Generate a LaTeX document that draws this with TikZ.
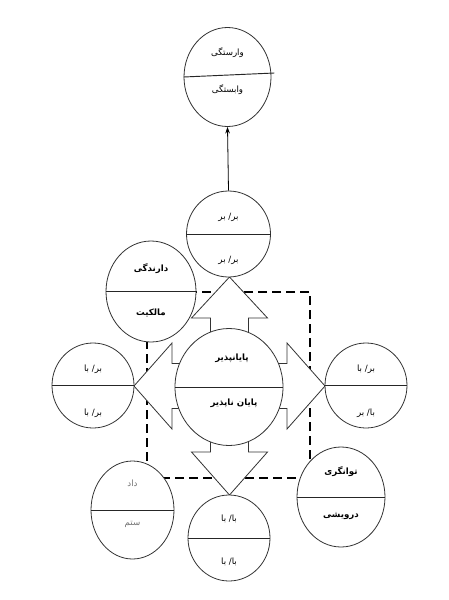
\documentclass[tikz,border=0pt]{standalone}
\usepackage{fontspec}
\newfontfamily\arabicfont[Script=Arabic]{DejaVu Sans}
\newfontfamily\slashfont{DejaVu Sans}
\TeXXeTstate=1
\usetikzlibrary{positioning, calc, shapes.geometric, arrows.meta}

% slash set apart so that the two words keep their order
\newcommand{\pairtext}[2]{\beginR #1{\slashfont/} #2\endR}

\begin{document}
\begin{tikzpicture}[
  x=0.75pt, y=-0.75pt,
  >={Stealth[length=5pt,width=3.5pt]},
  ring/.style={ellipse, draw=black!80, fill=white, line width=0.6pt, inner sep=0pt},
  divider/.style={draw=black!85, line width=0.7pt},
  word/.style={font=\arabicfont\fontsize{6.5}{8}\selectfont, inner sep=1pt},
  strong/.style={word, font=\arabicfont\bfseries\fontsize{6.5}{8}\selectfont},
  faint/.style={word, text=black!55},
  dashframe/.style={draw, line width=1.1pt, dash pattern=on 7pt off 3.5pt},
  crossarrow/.style={draw=black!80, fill=white, line width=0.6pt, line join=miter},
  flow/.style={->, line width=0.6pt}
]
\useasboundingbox (0,0) rectangle (449,600);

% --- Dashed frame round the centre ---
\node[dashframe, minimum width=122.25pt, minimum height=139.5pt, inner sep=0pt]
  (frame) at (228.5,385) {};

% --- Four-way block arrow ---
\coordinate (hub) at (229.5,386);
\begin{scope}[shift={(hub)}]
\draw[crossarrow] (-19,-22.5) -- (-19,-68) -- (-38,-68) -- (0,-109) -- (38,-68)
  -- (19,-68) -- (19,-22.5) -- (57.5,-22.5) -- (57.5,-43) -- (95.5,0)
  -- (57.5,43) -- (57.5,22.5) -- (19,22.5) -- (19,66) -- (38,66) -- (0,109)
  -- (-38,66) -- (-19,66) -- (-19,22.5) -- (-57.5,22.5) -- (-57.5,43)
  -- (-95.5,0) -- (-57.5,-43) -- (-57.5,-22.5) -- cycle;
\end{scope}

% --- Centre ---
\node[ring, minimum width=81pt, minimum height=87.75pt] (payan) at (229,387) {};
\draw[divider] (payan.west) -- (payan.east);
\node[strong] (payantop) at ($(payan)+(3,-29)$) {\beginR پایانپذیر\endR};
\node[strong] (payanbot) at ($(payan)+(5,16)$) {\beginR پایان ناپذیر\endR};

% --- Top chain ---
\node[ring, minimum width=65.25pt, minimum height=74.25pt] (vares) at (227.5,77) {};
\draw[divider] (vares.west) -- ($(vares.east)+(3,-4)$);
\node[word] (varestop) at ($(vares)+(0,-24)$) {\beginR وارستگی\endR};
\node[word] (varesbot) at ($(vares)+(0,13)$) {\beginR وابستگی\endR};

\node[ring, minimum width=63pt, minimum height=64.5pt] (barbar) at (228.5,234) {};
\draw[divider] (barbar.west) -- (barbar.east);
\node[word] (barbartop) at ($(barbar)+(0,-17)$) {\pairtext{بر}{بر}};
\node[word] (barbarbot) at ($(barbar)+(0,26)$) {\pairtext{بر}{بر}};

\draw[flow] (barbar.north) -- (vares.south);

% --- Upper left ---
\node[ring, minimum width=67.5pt, minimum height=75.75pt] (darandegi) at (151,291.5) {};
\draw[divider] (darandegi.west) -- (darandegi.east);
\node[strong] (darandegitop) at ($(darandegi)+(0,-23)$) {\beginR دارندگی\endR};
\node[strong] (darandegibot) at ($(darandegi)+(0,21)$) {\beginR مالکیت\endR};

% --- Left and right ---
\node[ring, minimum width=61.5pt, minimum height=63.75pt] (barba) at (93,385.5) {};
\draw[divider] (barba.west) -- (barba.east);
\node[word] (barbatop) at ($(barba)+(0,-16.5)$) {\pairtext{بر}{با}};
\node[word] (barbabot) at ($(barba)+(0,28)$) {\pairtext{بر}{با}};

\node[ring, minimum width=61.5pt, minimum height=63.75pt] (baber) at (366,385.5) {};
\draw[divider] (baber.west) -- (baber.east);
\node[word] (babertop) at ($(baber)+(0,-16.5)$) {\pairtext{بر}{با}};
\node[word] (baberbot) at ($(baber)+(0,28)$) {\pairtext{با}{بر}};

% --- Bottom row ---
\node[ring, minimum width=62.25pt, minimum height=73.5pt] (dad) at (132.5,510) {};
\draw[divider] (dad.west) -- (dad.east);
\node[faint] (dadtop) at ($(dad)+(0,-27)$) {\beginR داد\endR};
\node[faint] (dadbot) at ($(dad)+(0,14)$) {\beginR ستم\endR};

\node[ring, minimum width=61.5pt, minimum height=64.5pt] (baba) at (229,538) {};
\draw[divider] (baba.west) -- (baba.east);
\node[word] (babatop) at ($(baba)+(0,-19)$) {\pairtext{با}{با}};
\node[word] (bababot) at ($(baba)+(0,24)$) {\pairtext{با}{با}};

\node[ring, minimum width=66pt, minimum height=75pt] (tavangari) at (341,497) {};
\draw[divider] (tavangari.west) -- (tavangari.east);
\node[strong] (tavangaritop) at ($(tavangari)+(0,-25)$) {\beginR توانگری\endR};
\node[strong] (tavangaribot) at ($(tavangari)+(0,19)$) {\beginR درویشی\endR};

\end{tikzpicture}
\end{document}
